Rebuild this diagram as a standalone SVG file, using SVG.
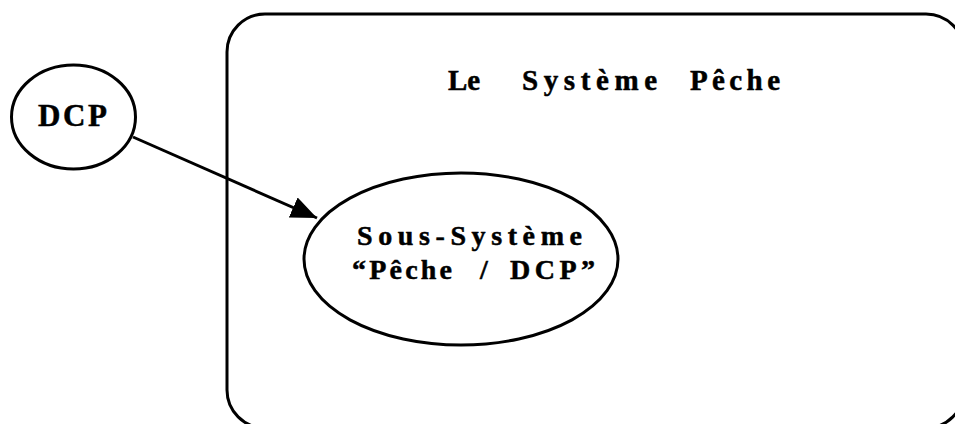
<svg xmlns="http://www.w3.org/2000/svg" width="955" height="424" viewBox="0 0 955 424">
  <defs>
    <style>
      .shape { fill: none; stroke: #000; stroke-width: 3; }
      .label { font-family: "Liberation Serif", "Times New Roman", serif; font-weight: bold; fill: #000; stroke: #000; stroke-width: 0.5; }
    </style>
    <marker id="head" viewBox="0 0 26 22" refX="26" refY="11" markerWidth="26" markerHeight="22" markerUnits="userSpaceOnUse" orient="auto">
      <path d="M0,0 L26,11 L0,22 Z" fill="#000"/>
    </marker>
  </defs>
  <rect width="955" height="424" fill="#fff"/>

  <!-- outer system boundary -->
  <g id="systeme-peche">
    <rect class="shape" x="227" y="14" width="737" height="414" rx="38" ry="38"/>
    <text class="label" x="448" y="90" font-size="29" textLength="32" lengthAdjust="spacing">Le</text>
    <text class="label" x="522" y="90" font-size="29" textLength="135" lengthAdjust="spacing">Système</text>
    <text class="label" x="690" y="90" font-size="29" textLength="90" lengthAdjust="spacing">Pêche</text>
  </g>

  <!-- external node -->
  <g id="dcp">
    <ellipse class="shape" cx="73.5" cy="117" rx="62" ry="52" stroke-width="2.8"/>
    <text class="label" x="38" y="126" font-size="31" textLength="69" lengthAdjust="spacing">DCP</text>
  </g>

  <!-- inner sub-system -->
  <g id="sous-systeme">
    <ellipse class="shape" cx="461" cy="259" rx="157" ry="86" stroke-width="2.8"/>
    <text class="label" x="357" y="245" font-size="28" textLength="225" lengthAdjust="spacing">Sous-Système</text>
    <text class="label" x="352" y="279" font-size="28" textLength="100" lengthAdjust="spacing">“Pêche</text>
    <text class="label" x="480" y="279" font-size="28">/</text>
    <text class="label" x="510" y="279" font-size="28" textLength="85" lengthAdjust="spacing">DCP”</text>
  </g>

  <!-- connectors -->
  <g id="connectors">
    <line class="shape" x1="133" y1="137" x2="317" y2="218" stroke-width="3.5" marker-end="url(#head)"/>
  </g>
</svg>
